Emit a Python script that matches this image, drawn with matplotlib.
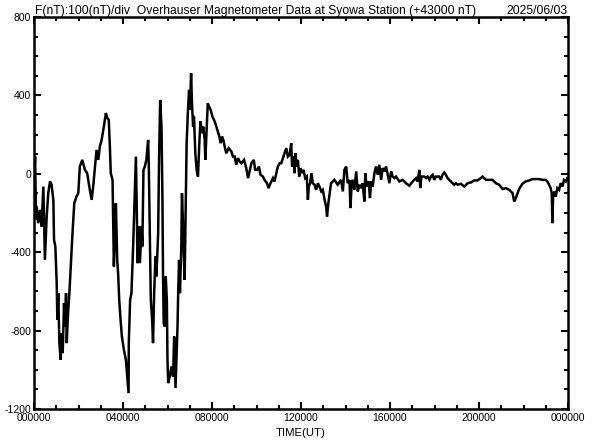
import matplotlib
matplotlib.use("Agg")
import matplotlib.pyplot as plt
from matplotlib.ticker import MultipleLocator

# ---- data (hours UT, F offset from 43000 nT) ----
hours_storm = [0.00, 0.05, 0.09, 0.12, 0.19, 0.27, 0.34, 0.42, 0.49, 0.57, 0.64, 0.72, 0.79, 0.87, 0.90, 0.96,
               1.02, 1.05, 1.09, 1.14, 1.20, 1.24, 1.29, 1.35, 1.39, 1.44, 1.47, 1.53, 1.59, 1.65, 1.73, 1.81,
               1.91, 1.99, 2.06, 2.17, 2.29, 2.39, 2.51, 2.59, 2.66, 2.74, 2.81, 2.89, 2.96, 3.04, 3.14, 3.23,
               3.30, 3.36, 3.41, 3.45, 3.53, 3.56, 3.59, 3.65, 3.68, 3.74, 3.78, 3.83, 3.89, 3.95, 4.04, 4.13,
               4.19, 4.25, 4.26, 4.32, 4.38, 4.46, 4.53, 4.58, 4.62, 4.65, 4.71, 4.76, 4.83, 4.87, 4.92, 4.98,
               5.05, 5.10, 5.13, 5.16, 5.20, 5.25, 5.31, 5.35, 5.40, 5.46, 5.50, 5.58, 5.62, 5.67, 5.73, 5.77,
               5.80, 5.83, 5.88, 5.92, 5.97, 6.00, 6.03, 6.10, 6.18, 6.25, 6.30, 6.36, 6.40, 6.45, 6.48, 6.52,
               6.56, 6.62, 6.65, 6.70, 6.74, 6.77, 6.82, 6.86, 6.92, 6.97, 7.01, 7.06, 7.10, 7.15, 7.19, 7.25,
               7.31, 7.37, 7.43, 7.48, 7.55, 7.61, 7.67, 7.70, 7.75, 7.81, 7.87, 7.94, 8.02, 8.09, 8.15, 8.24,
               8.33, 8.39, 8.45, 8.51]
f_storm = [-40, 88, -235, -167, -252, -184, -269, -65, -439, -218, -99, -39, -56, -133, -337, -371,
           -558, -745, -609, -864, -949, -813, -915, -660, -779, -609, -864, -711, -609, -473, -303, -150,
           -116, -99, 37, 71, 20, 3, -82, -133, -65, 37, 122, 71, 139, 173, 241, 310,
           284, 275, 139, 3, -31, -269, -473, -269, -150, -439, -507, -643, -745, -830, -898, -949,
           -1034, -1119, -864, -643, -609, -354, -99, 88, -184, -456, -269, -456, -269, -371, 20, 37,
           71, 139, 173, 37, -269, -643, -745, -864, -609, -422, -524, -303, 71, 377, 241, -99,
           -524, -762, -779, -524, -643, -949, -1068, -1034, -983, -1034, -830, -1093, -949, -779, -609, -439,
           -609, -371, -99, -269, -439, -541, -133, 156, 326, 428, 326, 513, 360, 241, 292, 105,
           20, -14, 156, 267, 207, 241, 173, 71, 207, 360, 343, 326, 292, 275, 258, 224,
           190, 156, 190, 173]

hours_recovery = [8.57, 8.64, 8.75, 8.87, 8.94, 9.02, 9.09, 9.17, 9.24, 9.32, 9.44, 9.54, 9.62, 9.69, 9.77, 9.88,
                  9.94, 10.03, 10.11, 10.18, 10.29, 10.36, 10.47, 10.54, 10.63, 10.74, 10.81, 10.89, 10.96, 11.04,
                  11.11, 11.19, 11.26, 11.34, 11.41, 11.49, 11.56, 11.60, 11.66, 11.71, 11.75, 11.81, 11.86, 11.92,
                  11.98, 12.04, 12.11, 12.19, 12.26, 12.31, 12.35, 12.41, 12.47, 12.53, 12.61, 12.68, 12.76, 12.83,
                  12.91, 12.98, 13.06, 13.13, 13.17, 13.23, 13.29]
f_recovery = [139, 105, 131, 114, 88, 88, 46, 80, 63, 54, 71, 29, -22, 12, 54, 71,
              20, 20, 37, -5, -14, -31, -48, -73, -48, -22, -39, 3, 37, 54,
              54, 80, 105, 131, 88, 97, 156, 37, 88, 3, 105, 37, 71, -14,
              29, 3, 20, -22, -14, -133, -65, -48, 3, -48, -56, -82, -48, -65,
              -90, -82, -133, -167, -218, -150, -99]

hours_quiet = [13.35, 13.50, 13.65, 13.80, 13.88, 13.95, 14.03, 14.10, 14.18, 14.22, 14.28, 14.33, 14.40, 14.48,
               14.55, 14.63, 14.70, 14.77, 14.85, 14.89, 14.95, 15.04, 15.10, 15.15, 15.22, 15.30, 15.37, 15.45,
               15.52, 15.60, 15.67, 15.75, 15.82, 15.90, 15.97, 16.05, 16.12, 16.20, 16.27, 16.35, 16.42, 16.57,
               16.72, 16.87, 17.02, 17.17, 17.24, 17.32, 17.36, 17.41, 17.54, 17.62, 17.69, 17.77, 17.84, 17.92,
               17.99, 18.06, 18.21, 18.29, 18.36, 18.44, 18.51, 18.59, 18.66, 18.81, 18.89, 18.96, 19.04, 19.19,
               19.34, 19.49, 19.64, 19.78, 19.93, 20.08, 20.16, 20.31, 20.46, 20.61, 20.76, 20.91, 21.06, 21.21,
               21.36, 21.51, 21.58, 21.62, 21.68, 21.80, 21.95, 22.10, 22.25, 22.40, 22.55, 22.70, 22.85, 23.00,
               23.07, 23.15, 23.22, 23.27, 23.30, 23.33, 23.39, 23.45, 23.52, 23.60, 23.67, 23.75, 23.82, 23.90,
               23.97]
f_quiet = [-48, -31, -56, -31, -90, 20, 37, -48, -31, -175, -48, -31, -82, 12,
           -90, -56, -73, -48, -141, 3, -65, -39, -124, -39, -65, 3, 37, -5,
           46, -31, 29, 12, 37, -5, -48, 12, -14, -22, -14, -27, -39, -31,
           -48, -61, -39, -22, -39, 20, -73, -14, -14, -22, -14, -31, -14, -5,
           -31, -14, -14, -31, -5, 7, -5, -22, -31, -48, -56, -48, -56, -51,
           -65, -48, -44, -34, -34, -22, -14, -31, -31, -31, -48, -56, -78, -73,
           -82, -99, -141, -133, -116, -78, -51, -39, -34, -27, -27, -27, -31, -31,
           -39, -56, -73, -99, -252, -116, -90, -116, -73, -82, -48, -65, -31, -39,
           -22]

x_tick_labels = ["000000", "040000", "080000", "120000", "160000", "200000", "000000"]
y_ticks = [-1200, -800, -400, 0, 400, 800]

hours = hours_storm + hours_recovery + hours_quiet
f_nT = f_storm + f_recovery + f_quiet

# ---- figure ----
fig = plt.figure(figsize=(5.92, 4.40), dpi=100)
ax = fig.add_axes([34/592, 1 - 409/440, (568 - 34)/592, (409 - 17)/440])
ax.plot(hours, f_nT, color="black", lw=1.8, solid_joinstyle="miter")

ax.set_xlim(0, 24)
ax.set_ylim(-1200, 800)
ax.set_xticks([0, 4, 8, 12, 16, 20, 24])
ax.set_xticklabels(x_tick_labels)
ax.xaxis.set_minor_locator(MultipleLocator(1))
ax.set_yticks(y_ticks)
ax.set_yticklabels([str(v) for v in y_ticks])
ax.yaxis.set_minor_locator(MultipleLocator(100))

for lab in ax.get_xticklabels() + ax.get_yticklabels():
    lab.set_fontfamily("Liberation Sans")
    lab.set_fontsize(7.5)

ax.tick_params(which="both", direction="in", top=True, right=True, width=1.5, colors="black")
ax.tick_params(which="major", length=5, pad=3)
ax.tick_params(which="minor", length=3)
ax.tick_params(axis="y", which="major", pad=2)
for s in ax.spines.values():
    s.set_linewidth(1.8)

fig.text(35/592, 1 - 14/440, "F(nT):100(nT)/div  Overhauser Magnetometer Data at Syowa Station (+43000 nT)",
         ha="left", va="baseline", family="Liberation Sans", size=8.7)
fig.text(568/592, 1 - 14/440, "2025/06/03", ha="right", va="baseline", family="Liberation Sans", size=8.7)
fig.text(301/592, 1 - 436/440, "TIME(UT)", ha="center", va="baseline", family="Liberation Sans", size=8.2)

fig.savefig("out.png", dpi=100, facecolor="white")
